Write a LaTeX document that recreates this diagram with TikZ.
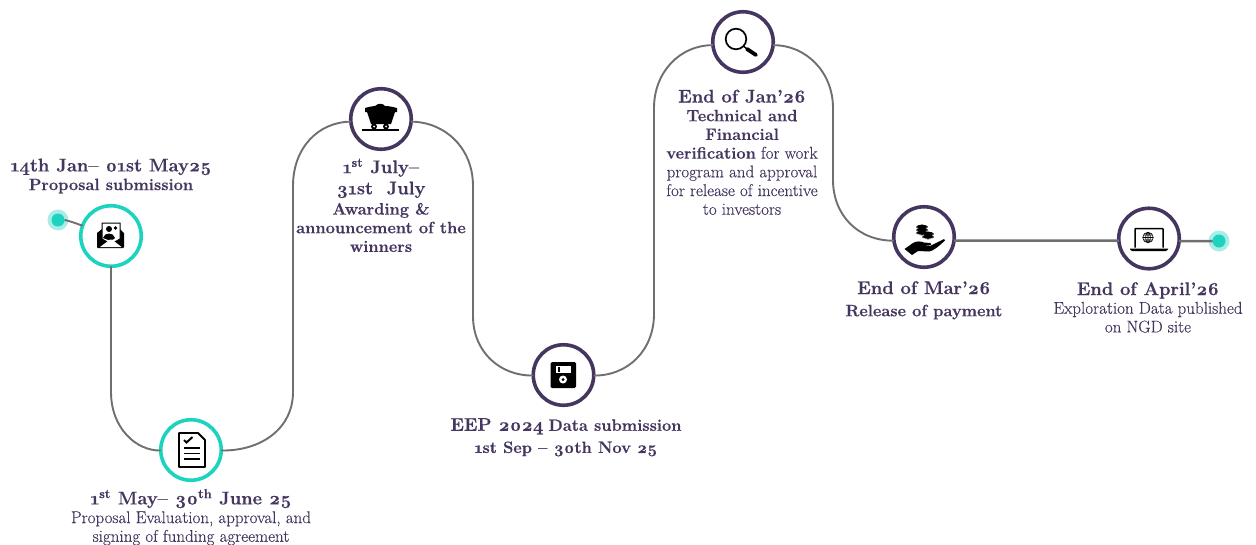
\documentclass[tikz,border=0pt]{standalone}
\usepackage{fontspec}
\setmainfont{Latin Modern Roman}[Numbers=OldStyle,UprightFeatures={FakeBold=0.25},BoldFeatures={FakeBold=0.5}]
\definecolor{txt}{HTML}{45365F}
\definecolor{teal1}{HTML}{1CD3C0}
\definecolor{halo}{HTML}{A8EDE6}
\definecolor{wire}{HTML}{6F6F6F}
\newcommand{\ttl}[1]{{\fontsize{18.3}{20}\selectfont\bfseries #1}}
\newcommand{\bsub}[1]{{\fontsize{16.4}{18.7}\selectfont\bfseries #1}}
\tikzset{
  ms/.style={circle,draw,fill=white,line width=3.6pt,minimum size=60.5pt,inner sep=0pt,outer sep=0pt},
  mteal/.style={ms,draw=teal1},
  mpurple/.style={ms,draw=txt},
  wirepath/.style={draw=wire,line width=1.9pt},
  wirestraight/.style={draw=wire,line width=2.5pt},
  lab/.style={text=txt,align=center,anchor=north,inner sep=0pt,font=\fontsize{17}{18.7}\selectfont},
  dotin/.style={circle,fill=teal1,minimum size=13pt,inner sep=0pt,outer sep=0pt},
  dothalo/.style={circle,fill=halo,minimum size=21pt,inner sep=0pt},
}
\begin{document}
\begin{tikzpicture}[x=1pt,y=-1pt]
\useasboundingbox (0,0) rectangle (1256,544);
\node[dothalo] (h1) at (58,220) {};
\node[dothalo] (h2) at (1219,241) {};
\node[dotin] (d1) at (58,220) {};
\node[dotin] (d2) at (1219,241) {};
\node[mteal] (c1) at (111,236) {};
\node[mteal] (c2) at (191,450) {};
\node[mpurple] (c3) at (381,119) {};
\node[mpurple] (c4) at (563.5,375) {};
\node[mpurple] (c5) at (743,42) {};
\node[mpurple] (c6) at (924,237) {};
\node[mpurple] (c7) at (1149,238.5) {};
% connectors
\draw[wirepath] (d1) .. controls (66,220) and (72,222) .. (c1.160);
\draw[wirepath] (c1.south) -- (111,392) .. controls (111,428) and (136,451) .. (c2.181);
\draw[wirepath] (c2.359) .. controls (262,451) and (293,428) .. (293,392) -- (293,186) .. controls (293,148) and (318,122) .. (c3.185);
\draw[wirepath] (c3.355) .. controls (445,122) and (473,148) .. (473,186) -- (473,316) .. controls (473,352) and (500,376) .. (c4.181);
\draw[wirepath] (c4.359) .. controls (628,376) and (654,350) .. (654,314) -- (654,108) .. controls (654,72) and (680,45) .. (c5.186);
\draw[wirepath] (c5.354) .. controls (806,45) and (833,72) .. (833,108) -- (833,180) .. controls (833,215) and (858,241) .. (c6.187);
\draw[wirestraight] (c6.353) -- (c7.184);
\draw[wirestraight] (c7.355) -- (d2);
% icon 1: envelope
\begin{scope}[shift={(c1)}]
\fill[black] (-14,-3) -- (-9,-7) -- (9,-7) -- (13,-3) -- (13,11) .. controls (13,12) .. (12,12) -- (-13,12) .. controls (-14,12) .. (-14,11) -- cycle;
\draw[black,fill=white,line width=1pt] (-9,3) -- (-9,-13) -- (9,-13) -- (9,3) -- (0,8) -- cycle;
\fill[black] (-2,-7) circle (3);
\fill[black] (-8,2) .. controls (-7,-4) and (3,-4) .. (4,2) -- (0,5) -- cycle;
\fill[black] (4.5,-8) circle (1.8);
\fill[white] (-11,11) -- (-1,3.5) -- (1,3.5) -- (10.5,11) -- cycle;
\end{scope}
% icon 2: document
\begin{scope}[shift={(c2)}]
\draw[black,line width=1.9pt,line join=round] (-12,-17) -- (7,-17) -- (14,-10) -- (14,17) -- (-12,17) -- cycle;
\draw[black,line width=2pt] (-7,-10) -- (-4.5,-7.5) -- (1.5,-13);
\draw[black,line width=1.9pt] (-7,-2) -- (9,-2) (-7,3.5) -- (9,3.5) (-7,9) -- (9,9);
\end{scope}
% icon 3: mine cart
\begin{scope}[shift={(c3)}]
\fill[black] (-16,-11) .. controls (-12,-12) and (-9,-13) .. (-6,-13) .. controls (-3,-16) and (2,-16) .. (4,-13) .. controls (8,-13) and (12,-12) .. (16,-11) -- (16,-7) -- (14,-7) -- (10,5) -- (-10,5) -- (-14,-7) -- (-16,-7) -- cycle;
\draw[black,line width=1.6pt] (-19,11) -- (18,11);
\fill[black] (-7,7.5) circle (3) (5,7.5) circle (3);
\fill[white] (-7,7.5) circle (1) (5,7.5) circle (1);
\end{scope}
% icon 4: floppy
\begin{scope}[shift={(c4)}]
\fill[black,rounded corners=1.5pt] (-13,-13) -- (12.5,-13) -- (12.5,13) -- (-13,13) -- cycle;
\fill[white] (-8,-9) rectangle (7,-2);
\fill[black] (-6,-8) rectangle (-4,-3);
\fill[white] (-0.5,4.5) circle (4);
\fill[black] (-0.5,4.5) circle (1.5);
\end{scope}
% icon 5: magnifier
\begin{scope}[shift={(c5)}]
\draw[black,line width=1.7pt] (-7,-3) circle (10.3);
\draw[black,line width=1.4pt] (0.5,4) -- (4,7);
\draw[black,line width=3.8pt,line cap=round] (4,7) -- (13,13);
\end{scope}
% icon 6: hand with coins
\begin{scope}[shift={(c6)}]
\fill[black] (-19.5,12) -- (-11,6) .. controls (-8,4) and (-3,4) .. (0,5.5) -- (6,6) .. controls (8,6) and (8,8) .. (5,8.5) -- (-1,9) -- (6,9) -- (20,2) -- (21,3.5) .. controls (14,10) and (9,14) .. (5,14.5) -- (-6,14) -- (-12,18) -- cycle;
\foreach \yy in {-10,-7,-4} {\draw[black,fill=black,line width=.4pt] (-2,\yy) ellipse (5.5 and 2.2); \draw[white,line width=.6pt] (-7,\yy+.9) .. controls (-4,\yy+2.6) and (0,\yy+2.6) .. (3,\yy+.9);}
\foreach \yy in {-3,0} {\draw[black,fill=black,line width=.4pt] (4,\yy) ellipse (5.5 and 2.2); \draw[white,line width=.6pt] (-1,\yy+.9) .. controls (2,\yy+2.6) and (6,\yy+2.6) .. (9,\yy+.9);}
\end{scope}
% icon 7: laptop
\begin{scope}[shift={(c7)}]
\draw[black,line width=1.5pt,rounded corners=.6pt] (-14,9) -- (-14,-10) -- (14,-10) -- (14,9);
\fill[black] (-19,10) -- (19,10) -- (19,11) -- (17,12.5) -- (-17,12.5) -- (-19,11) -- cycle;
\draw[black,line width=.6pt] (-1,-1) circle (5.3) (-1,-1) ellipse (2.4 and 5.3) (-6.3,-1) -- (4.3,-1) (-5.5,-3.5) -- (3.5,-3.5) (-5.5,1.5) -- (3.5,1.5) (-1,-6.3) -- (-1,4.3);
\end{scope}
% labels
\node[lab] (t1) at (111,158.5) {\ttl{14th Jan– 01st May25}\\\bsub{Proposal submission}};
\node[lab] (t2) at (191,489) {\ttl{1\textsuperscript{st} May– 30\textsuperscript{th} June 25}\\Proposal Evaluation, approval, and\\signing of funding agreement};
\node[lab] (t3) at (381,158.5) {\ttl{1\textsuperscript{st} July–}\\[2.5pt]\ttl{31st\ \ July}\\[1.5pt]\bsub{Awarding \&}\\\bsub{announcement of the}\\\bsub{winners}};
\node[lab] (t4) at (566,418) {\ttl{EEP 2024} \bsub{Data submission}\\[3.5pt]\bsub{1st Sep – 30th Nov 25}};
\node[lab] (t5) at (742,89.5) {\ttl{End of Jan’26}\\\bsub{Technical and}\\\bsub{Financial}\\\bsub{verification} for work\\program and approval\\for release of incentive\\to investors};
\node[lab] (t6) at (924,281) {\ttl{End of Mar’26}\\[3.5pt]\bsub{Release of payment}};
\node[lab] (t7) at (1148,282) {\ttl{End of April’26}\\Exploration Data published\\on NGD site};
\end{tikzpicture}
\end{document}
